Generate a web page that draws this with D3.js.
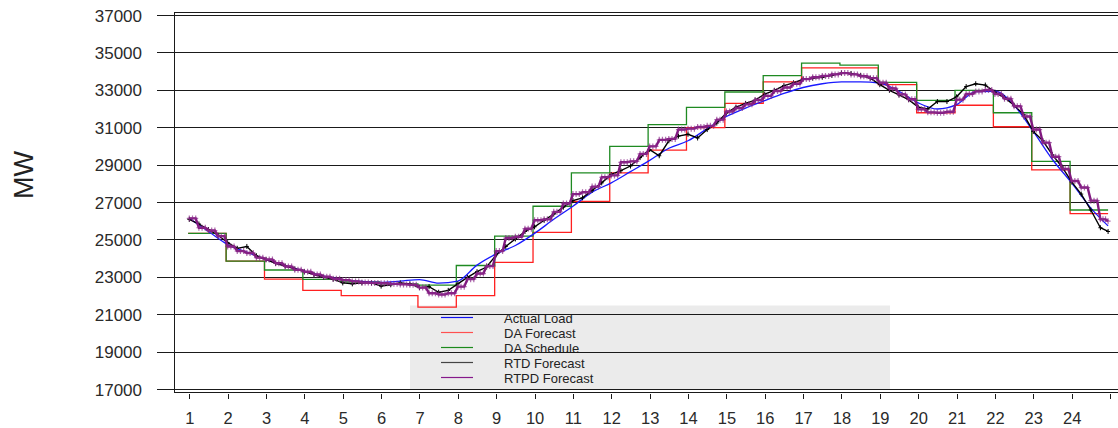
<!DOCTYPE html>
<html>
<head>
<meta charset="utf-8">
<script src="https://cdnjs.cloudflare.com/ajax/libs/d3/7.8.5/d3.min.js"></script>
<style>
  body { margin: 0; background: #fff; }
  svg { display: block; font-family: "Liberation Sans", Arial, sans-serif; }
</style>
</head>
<body>
<svg id="chart" width="1118" height="428"></svg>
<script>
// hour ticks along the bottom, the last one has no label
var hourTicks = [1, 2, 3, 4, 5, 6, 7, 8, 9, 10, 11, 12, 13, 14, 15, 16, 17, 18, 19, 20, 21, 22, 23, 24, 25];
var hourLabels = ["1", "2", "3", "4", "5", "6", "7", "8", "9", "10", "11", "12", "13", "14", "15", "16", "17", "18", "19", "20", "21", "22", "23", "24", ""];
var mwTicks = [17000, 19000, 21000, 23000, 25000, 27000, 29000, 31000, 33000, 35000, 37000];

// hourly day-ahead values, hour 1..24
var daForecast = [25350, 23870, 22900, 22300, 22020, 22020, 21400, 22020, 23800, 25400, 27060, 28580,
                  29800, 31000, 32300, 33450, 34200, 34200, 33300, 31800, 32200, 31050, 28750, 26400];
var daSchedule = [25350, 23870, 23390, 22890, 22750, 22650, 22580, 23630, 25200, 26800, 28580, 30000,
                  31160, 32090, 32910, 33790, 34450, 34350, 33420, 32460, 33000, 31800, 29200, 26600];

// actual load, every half hour from hour 1 (last value at the right end)
var actualLoad = [26150, 25450, 24750, 24350, 23950, 23620, 23330, 23060, 22880, 22780,
                  22730, 22800, 22880, 22690, 22800, 23650, 24250, 24700, 25350, 26100,
                  26800, 27550, 28050, 28650, 29250, 29900, 30300, 30950, 31600, 32050,
                  32450, 32830, 33150, 33350, 33450, 33450, 33380, 32950, 32330, 32000,
                  32230, 32930, 32950, 32200, 30800, 29300, 28050, 26700, 25750];

// real-time forecasts, every quarter hour from hour 1 (last value at the right end)
var rtdForecast = [26100, 25850, 25550, 25250, 24850, 24550, 24650, 24150, 23950, 23750, 23600, 23450,
                   23300, 23150, 23000, 22900, 22700, 22650, 22700, 22700, 22530, 22600, 22700, 22650,
                   22450, 22500, 22200, 22300, 22650, 23000, 23300, 23550, 24200, 24650, 25050, 25450,
                   25700, 26050, 26380, 26750, 27100, 27250, 27650, 28050, 28500, 28700, 28950, 29400,
                   29830, 29500, 30300, 30550, 30650, 30450, 30900, 31250, 31780, 32100, 32300, 32470,
                   32800, 33000, 33250, 33400, 33600, 33650, 33700, 33800, 33920, 33900, 33800, 33650,
                   33300, 33000, 32750, 32500, 32100, 32000, 32400, 32400, 32650, 33200, 33350, 33280,
                   32900, 32600, 32200, 31700, 30800, 30300, 29550, 28900, 28100, 27450, 26600, 25650,
                   25450];
var rtpdForecast = [26150, 25650, 25500, 25200, 24650, 24400, 24300, 24050, 23950, 23750, 23580, 23400,
                    23300, 23150, 23030, 22920, 22850, 22780, 22720, 22700, 22680, 22650, 22620, 22600,
                    22450, 22150, 22080, 22150, 22500, 22900, 23200, 23600, 24400, 25100, 25170, 25600,
                    26050, 26100, 26500, 26950, 27450, 27550, 27850, 28350, 28450, 29150, 29200, 29600,
                    30000, 30350, 30400, 30900, 30950, 31040, 31100, 31430, 31870, 32050, 32250, 32480,
                    32700, 32960, 33150, 33350, 33600, 33700, 33770, 33850, 33920, 33850, 33750, 33650,
                    33400, 33100, 32780, 32520, 31980, 31820, 31800, 31850, 32500, 32800, 32940, 33020,
                    32800, 32550, 32150, 31600, 30900, 30200, 29450, 28800, 28150, 27800, 27100, 26100,
                    26000];

var legendNames = ["Actual Load", "DA Forecast", "DA Schedule", "RTD Forecast", "RTPD Forecast"];
var legendColors = ["#1010ee", "#ff5050", "#1c8a1c", "#444444", "#86198a"];

var lastHour = 24.95;
var stepShift = 0.04;

var svg = d3.select("#chart");

var x = d3.scaleLinear()
  .domain([1, 25])
  .range([189.3, 1110]);

var y = d3.scaleLinear()
  .domain([17000, 37000])
  .range([389.5, 15.5]);

// legend box sits under the grid
var legend = svg.append("g");
legend.append("rect")
  .attr("x", 410).attr("y", 305.5)
  .attr("width", 480).attr("height", 83.5)
  .attr("fill", "#ebebeb");
legendNames.forEach(function(name, i) {
  var ly = 317.5 + i * 15;
  legend.append("line")
    .attr("x1", 441).attr("x2", 473)
    .attr("y1", ly).attr("y2", ly)
    .attr("stroke", legendColors[i])
    .attr("stroke-width", 1.2);
  legend.append("text")
    .attr("x", 504).attr("y", ly + 5)
    .attr("font-size", "13px")
    .attr("fill", "#222")
    .text(name);
});

// grid lines, running left past the axis as tick marks
svg.append("g")
  .selectAll("line")
  .data(mwTicks)
  .join("line")
    .attr("x1", 157).attr("x2", 1118)
    .attr("y1", function(d) { return y(d); })
    .attr("y2", function(d) { return y(d); })
    .attr("stroke", "#1a1a1a")
    .attr("shape-rendering", "crispEdges");

svg.append("g")
  .selectAll("text")
  .data(mwTicks)
  .join("text")
    .attr("x", 142)
    .attr("y", function(d) { return y(d) + 6; })
    .attr("text-anchor", "end")
    .attr("font-size", "17px")
    .attr("fill", "#2a2a2a")
    .text(function(d) { return d; });

// plot frame
var frame = svg.append("g")
  .attr("stroke", "#1a1a1a")
  .attr("shape-rendering", "crispEdges");
frame.append("line").attr("x1", 174).attr("x2", 1118).attr("y1", 12).attr("y2", 12);
frame.append("line").attr("x1", 174).attr("x2", 1118).attr("y1", 392).attr("y2", 392);
frame.append("line").attr("x1", 174).attr("x2", 174).attr("y1", 12).attr("y2", 393);

// x axis with the hour numbers
var xAxis = svg.append("g")
  .attr("transform", "translate(0,393)")
  .call(d3.axisBottom(x)
    .tickValues(hourTicks)
    .tickFormat(function(d, i) { return hourLabels[i]; })
    .tickSize(6)
    .tickPadding(13));
xAxis.select(".domain").remove();
xAxis.selectAll(".tick line")
  .attr("stroke", "#1a1a1a")
  .attr("y1", 1)
  .attr("shape-rendering", "crispEdges");
xAxis.selectAll(".tick text")
  .attr("font-size", "16.5px")
  .attr("font-family", "Liberation Sans, Arial, sans-serif")
  .attr("fill", "#2a2a2a");

svg.append("text")
  .attr("transform", "translate(33,175) rotate(-90)")
  .attr("text-anchor", "middle")
  .attr("font-size", "27px")
  .attr("fill", "#222")
  .text("MW");

// series
function stepPoints(values) {
  var pts = values.map(function(v, i) { return [i + 1 - (i ? stepShift : 0.03), v]; });
  pts.push([lastHour, values[values.length - 1]]);
  return pts;
}
function timed(values, per) {
  return values.map(function(v, i) {
    return [Math.min(1 + i / per, lastHour), v];
  });
}
// RTPD values are held for three 5-minute intervals before moving on
function held(values) {
  var pts = [];
  for (var i = 0; i < values.length - 1; i++) {
    var t = 1 + i / 4, t2 = Math.min(1 + (i + 1) / 4, lastHour);
    pts.push([t, values[i]]);
    pts.push([t + (t2 - t) / 3, values[i]]);
    pts.push([t + 2 * (t2 - t) / 3, values[i]]);
  }
  pts.push([lastHour, values[values.length - 1]]);
  return pts;
}

var line = d3.line()
  .x(function(d) { return x(d[0]); })
  .y(function(d) { return y(d[1]); });
var stepLine = d3.line()
  .x(function(d) { return x(d[0]); })
  .y(function(d) { return y(d[1]); })
  .curve(d3.curveStepAfter);
var smoothLine = d3.line()
  .x(function(d) { return x(d[0]); })
  .y(function(d) { return y(d[1]); })
  .curve(d3.curveMonotoneX);

var plot = svg.append("g").attr("fill", "none");

plot.append("path")
  .datum(stepPoints(daForecast))
  .attr("d", stepLine)
  .attr("stroke", "#ff2020")
  .attr("stroke-width", 1.3);

plot.append("path")
  .datum(stepPoints(daSchedule))
  .attr("d", stepLine)
  .attr("stroke", "#1f8a22")
  .attr("stroke-width", 1.3);

plot.append("path")
  .datum(timed(actualLoad, 2))
  .attr("d", smoothLine)
  .attr("stroke", "#1a1aff")
  .attr("stroke-width", 1.3);

var rtd = timed(rtdForecast, 4);
plot.append("path")
  .datum(rtd)
  .attr("d", line)
  .attr("stroke", "#000")
  .attr("stroke-width", 1.4);
plot.append("g")
  .selectAll("path")
  .data(rtd)
  .join("path")
    .attr("transform", function(d) { return "translate(" + x(d[0]) + "," + y(d[1]) + ")"; })
    .attr("d", "M-2,0H2M0,-2.5V2.5")
    .attr("stroke", "#000")
    .attr("stroke-width", 1);

var rtpd = held(rtpdForecast);
plot.append("path")
  .datum(rtpd)
  .attr("d", line)
  .attr("stroke", "#80187f")
  .attr("stroke-width", 2.4);
plot.append("g")
  .selectAll("path")
  .data(rtpd)
  .join("path")
    .attr("transform", function(d) { return "translate(" + x(d[0]) + "," + y(d[1]) + ")"; })
    .attr("d", "M-2.5,0H2.5M0,-3V3")
    .attr("stroke", "#8a2a8a")
    .attr("stroke-opacity", 0.7)
    .attr("stroke-width", 1.2);
</script>
</body>
</html>
